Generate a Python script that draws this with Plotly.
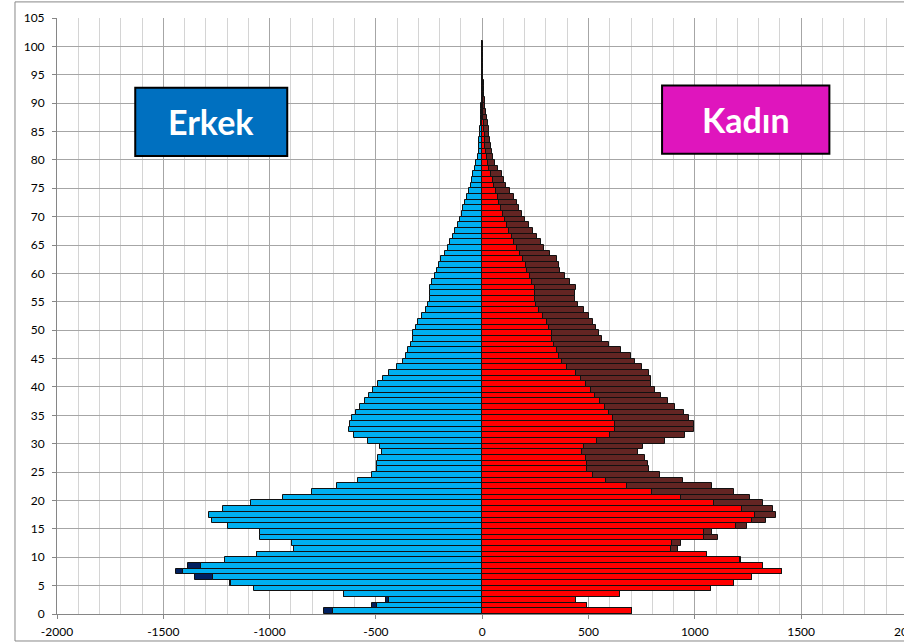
import plotly.graph_objects as go

# yaş grupları 0..100
yaslar = list(range(101))

erkek = [742, 520, 454, 651, 1074, 1188, 1352, 1438, 1382, 1212,
         1061, 886, 895, 1045, 1045, 1196, 1269, 1285, 1221, 1089,
         937, 801, 682, 584, 520, 495, 495, 490, 471, 480,
         538, 601, 626, 623, 613, 595, 576, 552, 532, 513,
         490, 466, 440, 401, 374, 360, 351, 336, 327, 326,
         313, 304, 285, 266, 255, 247, 246, 246, 236, 224,
         213, 205, 194, 177, 163, 150, 139, 128, 116, 105,
         97, 89, 81, 72, 63, 55, 50, 41, 34, 28,
         22, 17, 15, 13, 11, 9, 8, 6, 5, 4,
         3, 3, 2, 2, 1, 1, 1, 1, 1, 1, 1]

kadin = [703, 495, 440, 649, 1077, 1183, 1268, 1408, 1321, 1216,
         1059, 919, 937, 1108, 1083, 1244, 1333, 1380, 1368, 1321,
         1258, 1183, 1080, 945, 836, 784, 779, 764, 731, 754,
         858, 956, 997, 994, 975, 947, 909, 872, 839, 811,
         792, 792, 783, 750, 721, 700, 651, 598, 562, 548,
         534, 520, 501, 477, 449, 437, 437, 440, 415, 388,
         366, 360, 350, 319, 293, 275, 260, 241, 219, 199,
         185, 175, 163, 149, 130, 114, 102, 92, 74, 61,
         50, 47, 42, 38, 34, 30, 26, 22, 18, 15,
         12, 10, 8, 7, 6, 5, 4, 3, 3, 2, 2]

x_ticks = [-2000, -1500, -1000, -500, 0, 500, 1000, 1500]
x_labels = ['-2000', '-1500', '-1000', '-500', '0', '500', '1000', '1500']

# ortak kısım ve fazlalık
ortak = [min(e, k) for e, k in zip(erkek, kadin)]
erkek_fazla = [e - o for e, o in zip(erkek, ortak)]
kadin_fazla = [k - o for k, o in zip(kadin, ortak)]
y_pos = [a + 0.5 for a in yaslar]

cizgi = dict(color='#111111', width=1)

fig = go.Figure()
fig.add_trace(go.Bar(y=y_pos, x=[-v for v in ortak], orientation='h',
                     marker=dict(color='#00b0f0', line=cizgi)))
fig.add_trace(go.Bar(y=y_pos, x=[-v for v in erkek_fazla], orientation='h',
                     marker=dict(color='#002060', line=cizgi)))
fig.add_trace(go.Bar(y=y_pos, x=ortak, orientation='h',
                     marker=dict(color='#ff0000', line=cizgi)))
fig.add_trace(go.Bar(y=y_pos, x=kadin_fazla, orientation='h',
                     marker=dict(color='#632523', line=cizgi)))

fig.update_layout(
    width=904, height=642,
    margin=dict(l=57, r=0, t=18, b=28),
    barmode='relative', bargap=0,
    showlegend=False,
    plot_bgcolor='white', paper_bgcolor='white',
    font=dict(family='Lato', size=12, color='#000000'),
    xaxis=dict(range=[-2000, 1984], tickvals=x_ticks, ticktext=x_labels,
               showgrid=True, gridcolor='#a6a6a6', gridwidth=1,
               minor=dict(dtick=100, showgrid=True, gridcolor='#d4d4d4', gridwidth=1),
               showline=True, linecolor='#868686', linewidth=1,
               ticks='outside', ticklen=4, tickcolor='#868686',
               ticklabelstandoff=3,
               zeroline=False, fixedrange=True),
    yaxis=dict(range=[0, 105], tickvals=list(range(0, 106, 5)),
               showgrid=True, gridcolor='#a6a6a6', gridwidth=1,
               showline=True, linecolor='#868686', linewidth=1,
               ticks='outside', ticklen=4, tickcolor='#868686',
               ticklabelstandoff=5,
               zeroline=False, fixedrange=True),
    shapes=[
        dict(type='rect', xref='paper', yref='paper', x0=-0.0496, x1=1.05,
             y0=-0.0453, y1=1.027, line=dict(color='#888888', width=1), layer='below'),
        dict(type='rect', xref='x', yref='y', x0=-1632, x1=-917, y0=80.7, y1=92.7,
             fillcolor='#0070c0', line=dict(color='#000000', width=2), layer='above'),
        dict(type='rect', xref='x', yref='y', x0=846, x1=1633, y0=81.1, y1=93.1,
             fillcolor='#df15bd', line=dict(color='#000000', width=2), layer='above'),
    ],
    annotations=[
        dict(x=-1274, y=86.7, xref='x', yref='y', text='<b>Erkek</b>', showarrow=False,
             font=dict(family='Lato', size=34, color='white')),
        dict(x=1240, y=87.1, xref='x', yref='y', text='<b>Kadın</b>', showarrow=False,
             font=dict(family='Lato', size=34, color='white')),
        dict(x=1 + 4 / 847, y=0, xref='paper', yref='paper', xanchor='center',
             yanchor='middle', yshift=-17, text='2000', showarrow=False,
             font=dict(family='Lato', size=12, color='#000000')),
    ],
)

fig.write_html('out.html', config={'displayModeBar': False},
               post_script="document.body.style.margin='0';document.body.style.overflow='hidden';")
